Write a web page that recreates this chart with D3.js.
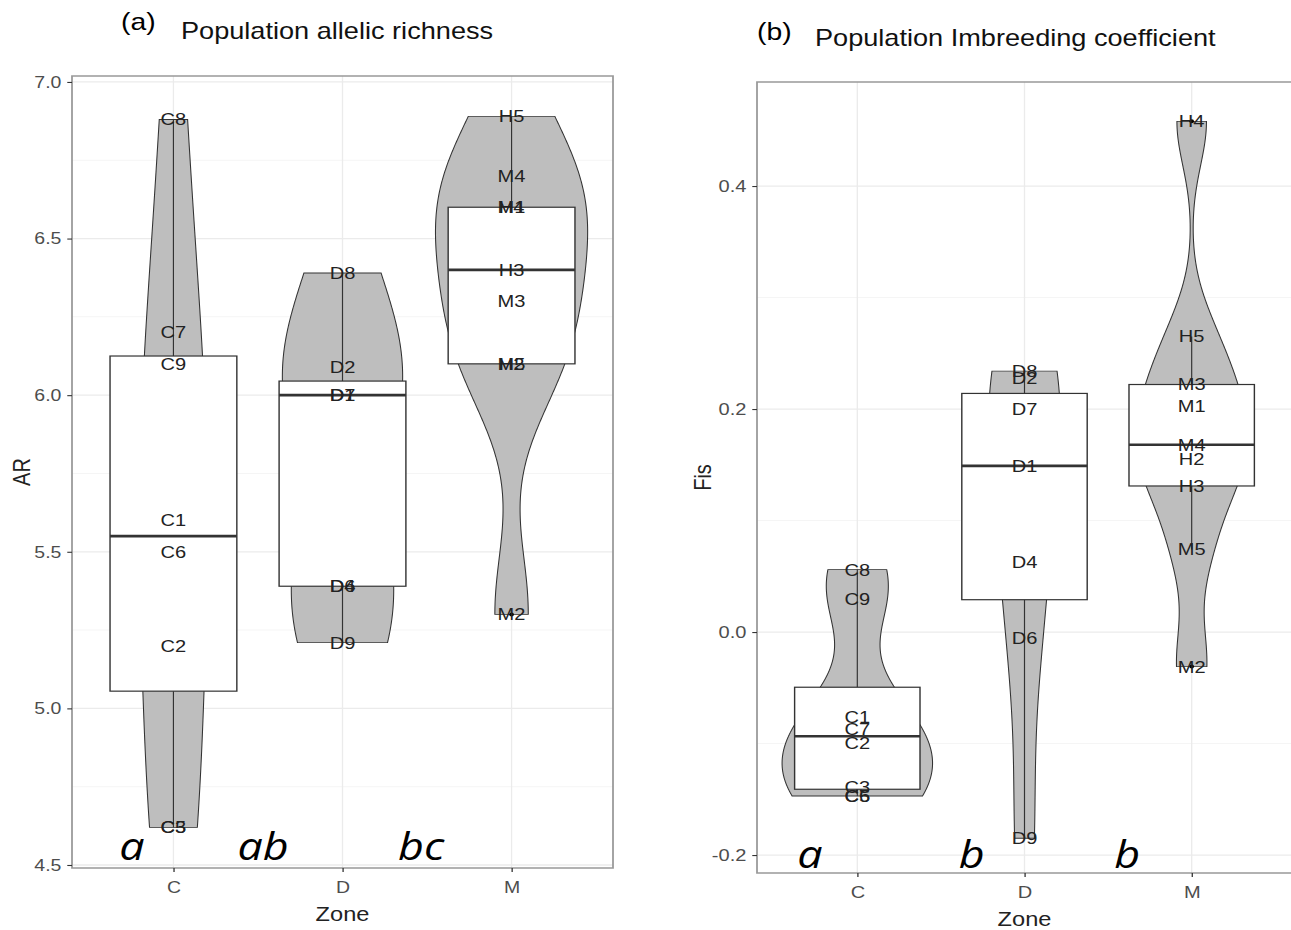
<!DOCTYPE html>
<html>
<head>
<meta charset="utf-8">
<script src="https://cdn.jsdelivr.net/npm/d3@7"></script>
<style>
  body { margin: 0; background: #fff; }
  text { font-family: "Liberation Sans", Arial, sans-serif; }
</style>
</head>
<body>
<div id="canvas"></div>
<script>
// Zones on the x axis
var zones = ["C", "D", "M"];

// Allelic richness per population (panel a)
var arPops = ["C8", "C7", "C9", "C1", "C6", "C2", "C3", "C5",
              "D8", "D2", "D7", "D1", "D4", "D6", "D9",
              "H5", "M4", "M1", "H4", "H3", "M3", "M5", "H2", "M2"];
var arValues = [6.88, 6.20, 6.10, 5.60, 5.50, 5.20, 4.62, 4.62,
                6.39, 6.09, 6.00, 6.00, 5.39, 5.39, 5.21,
                6.89, 6.70, 6.60, 6.60, 6.40, 6.30, 6.10, 6.10, 5.30];
var arLetters = ["a", "ab", "bc"];
var arTicks = [4.5, 5.0, 5.5, 6.0, 6.5, 7.0];
var arMinor = [4.75, 5.25, 5.75, 6.25, 6.75];

// Inbreeding coefficient per population (panel b)
var fisPops = ["C8", "C9", "C1", "C7", "C2", "C3", "C6", "C5",
               "D8", "D2", "D7", "D1", "D4", "D6", "D9",
               "H4", "H5", "M3", "M1", "M4", "H2", "H3", "M5", "M2"];
var fisValues = [0.056, 0.030, -0.076, -0.087, -0.100, -0.139, -0.147, -0.147,
                 0.234, 0.228, 0.200, 0.149, 0.063, -0.005, -0.185,
                 0.458, 0.265, 0.222, 0.203, 0.168, 0.155, 0.131, 0.074, -0.031];
var fisLetters = ["a", "b", "b"];
var fisTicks = [-0.2, 0.0, 0.2, 0.4];
var fisMinor = [-0.1, 0.1, 0.3];

// the exported figure is stretched horizontally, text included
var SX = 1.18;

var svg = d3.select("#canvas")
    .append("svg")
    .attr("width", 1291)
    .attr("height", 930)
    .style("background-color", "#fff");

var root = svg.append("g").attr("transform", "scale(" + SX + ",1)");

// H populations belong to zone M
function zoneOf(p) {
    return p[0] === "H" ? "M" : p[0];
}

// R's bw.nrd0
function bwNrd0(v) {
    var hi = d3.deviation(v);
    var lo = Math.min(hi, (d3.quantile(v, 0.75) - d3.quantile(v, 0.25)) / 1.34);
    if (!lo) lo = hi || Math.abs(v[0]) || 1;
    return 0.9 * lo * Math.pow(v.length, -0.2);
}

function gauss(u) {
    return Math.exp(-0.5 * u * u) / Math.sqrt(2 * Math.PI);
}

function drawPanel(p) {
    var x = d3.scaleLinear().domain([0.4, 3.6]).range([p.left / SX, p.right / SX]);
    var y = d3.scaleLinear().domain(p.yDomain).range([p.bottom, p.top]);
    var x0 = x.range()[0], x1 = x.range()[1];
    var g = root.append("g");

    // grid
    g.selectAll(".minor").data(p.yMinor).join("line")
        .attr("x1", x0).attr("x2", x1)
        .attr("y1", d => y(d)).attr("y2", d => y(d))
        .attr("stroke", "#f5f5f5").attr("stroke-width", 1);
    g.selectAll(".major").data(p.yTicks).join("line")
        .attr("x1", x0).attr("x2", x1)
        .attr("y1", d => y(d)).attr("y2", d => y(d))
        .attr("stroke", "#ebebeb").attr("stroke-width", 1.3);
    g.selectAll(".vmajor").data(zones).join("line")
        .attr("x1", (d, i) => x(i + 1)).attr("x2", (d, i) => x(i + 1))
        .attr("y1", p.top).attr("y2", p.bottom)
        .attr("stroke", "#ebebeb").attr("stroke-width", 1.1);

    // group the values by zone and compute stats
    var groups = zones.map(function(z, i) {
        var vals = p.values.filter((v, j) => zoneOf(p.pops[j]) === z).sort(d3.ascending);
        var h = bwNrd0(vals);
        var lo = vals[0], hi = vals[vals.length - 1];
        var dens = d3.range(512).map(function(k) {
            var t = lo + (hi - lo) * k / 511;
            return {t: t, d: d3.mean(vals, v => gauss((t - v) / h)) / h};
        });
        var q1 = d3.quantile(vals, 0.25), med = d3.quantile(vals, 0.5), q3 = d3.quantile(vals, 0.75);
        var iqr = q3 - q1;
        var inside = vals.filter(v => v >= q1 - 1.5 * iqr && v <= q3 + 1.5 * iqr);
        return {
            pos: i + 1, vals: vals, dens: dens,
            q1: q1, med: med, q3: q3,
            wLo: d3.min(inside), wHi: d3.max(inside),
            out: vals.filter(v => v < q1 - 1.5 * iqr || v > q3 + 1.5 * iqr)
        };
    });
    var maxD = d3.max(groups, gr => d3.max(gr.dens, d => d.d));

    // violins
    groups.forEach(function(gr) {
        var area = d3.area()
            .y(d => y(d.t))
            .x0(d => x(gr.pos - d.d / maxD * 0.45))
            .x1(d => x(gr.pos + d.d / maxD * 0.45));
        g.append("path")
            .attr("d", area(gr.dens))
            .attr("fill", "#bebebe")
            .attr("stroke", "#333")
            .attr("stroke-width", 0.9);
    });

    // boxplots
    groups.forEach(function(gr) {
        g.append("line")
            .attr("x1", x(gr.pos)).attr("x2", x(gr.pos))
            .attr("y1", y(gr.wHi)).attr("y2", y(gr.q3))
            .attr("stroke", "#333").attr("stroke-width", 1);
        g.append("line")
            .attr("x1", x(gr.pos)).attr("x2", x(gr.pos))
            .attr("y1", y(gr.q1)).attr("y2", y(gr.wLo))
            .attr("stroke", "#333").attr("stroke-width", 1);
        g.append("rect")
            .attr("x", x(gr.pos - 0.375))
            .attr("y", y(gr.q3))
            .attr("width", x(gr.pos + 0.375) - x(gr.pos - 0.375))
            .attr("height", y(gr.q1) - y(gr.q3))
            .attr("fill", "#fff")
            .attr("stroke", "#333")
            .attr("stroke-width", 1.2);
        g.append("line")
            .attr("x1", x(gr.pos - 0.375)).attr("x2", x(gr.pos + 0.375))
            .attr("y1", y(gr.med)).attr("y2", y(gr.med))
            .attr("stroke", "#333").attr("stroke-width", 2.6);
        g.selectAll(null).data(gr.out).join("circle")
            .attr("cx", x(gr.pos))
            .attr("cy", d => y(d))
            .attr("r", 2)
            .attr("fill", "#000");
    });

    // population labels
    g.selectAll(".lab").data(p.pops).join("text")
        .attr("x", d => x(zones.indexOf(zoneOf(d)) + 1))
        .attr("y", (d, i) => y(p.values[i]))
        .attr("dy", "0.35em")
        .attr("text-anchor", "middle")
        .style("font-size", "17px")
        .style("fill", "#222")
        .text(d => d);

    // panel border
    g.append("rect")
        .attr("x", x0).attr("y", p.top)
        .attr("width", x1 - x0).attr("height", p.bottom - p.top)
        .attr("fill", "none")
        .attr("stroke", "#999")
        .attr("stroke-width", 1.5);

    // axes
    var yAxis = g.append("g")
        .attr("transform", "translate(" + x0 + ",0)")
        .call(d3.axisLeft(y).tickValues(p.yTicks).tickFormat(d => d.toFixed(1))
            .tickSize(4).tickPadding(5));
    var xAxis = g.append("g")
        .attr("transform", "translate(0," + p.bottom + ")")
        .call(d3.axisBottom(x).tickValues([1, 2, 3]).tickFormat((d, i) => zones[i])
            .tickSize(4).tickPadding(9));
    [yAxis, xAxis].forEach(function(ax) {
        ax.select(".domain").remove();
        ax.attr("font-family", "Liberation Sans, Arial, sans-serif")
            .attr("font-size", p.tickFont);
        ax.selectAll(".tick line").attr("stroke", "#333").attr("stroke-width", 1.1);
        ax.selectAll(".tick text").attr("fill", "#4d4d4d");
    });

    // axis titles
    g.append("text")
        .attr("x", (x0 + x1) / 2)
        .attr("y", p.zoneY)
        .attr("text-anchor", "middle")
        .style("font-size", "20px")
        .style("fill", "#222")
        .text("Zone");
    g.append("text")
        .attr("transform", "translate(" + (p.yLabelX / SX) + "," + ((p.top + p.bottom) / 2) + ") rotate(-90)")
        .attr("dy", "0.35em")
        .attr("text-anchor", "middle")
        .style("font-size", "20px")
        .style("fill", "#222")
        .text(p.yLabel);

    // significance letters
    g.selectAll(".sig").data(p.letters).join("text")
        .attr("x", (d, i) => x(p.letterPos[i]))
        .attr("y", p.letterY)
        .attr("text-anchor", "middle")
        .style("font-family", "'Open Sans', sans-serif")
        .style("font-style", "italic")
        .style("font-size", "38px")
        .style("fill", "#000")
        .text(d => d);

    // titles
    g.append("text")
        .attr("x", p.tagX / SX).attr("y", p.tagY)
        .style("font-size", "24px")
        .style("fill", "#000")
        .text(p.tag);
    g.append("text")
        .attr("x", p.titleX / SX).attr("y", p.titleY)
        .style("font-size", "23px")
        .style("fill", "#111")
        .text(p.title);
}

drawPanel({
    pops: arPops, values: arValues, letters: arLetters,
    letterPos: [0.755, 1.53, 2.465], letterY: 860,
    left: 72, right: 613, top: 76, bottom: 868,
    yDomain: [4.4904, 7.019], yTicks: arTicks, yMinor: arMinor,
    tag: "(a)", tagX: 121, tagY: 30,
    title: "Population allelic richness", titleX: 181, titleY: 39,
    yLabel: "AR", yLabelX: 22, zoneY: 921, tickFont: 16.5
});

drawPanel({
    pops: fisPops, values: fisValues, letters: fisLetters,
    letterPos: [0.716, 1.684, 2.615], letterY: 868,
    left: 757, right: 1292, top: 82, bottom: 873,
    yDomain: [-0.2161, 0.4933], yTicks: fisTicks, yMinor: fisMinor,
    tag: "(b)", tagX: 757, tagY: 40,
    title: "Population Imbreeding coefficient", titleX: 815, titleY: 46,
    yLabel: "Fis", yLabelX: 703, zoneY: 926, tickFont: 17
});
</script>
</body>
</html>
